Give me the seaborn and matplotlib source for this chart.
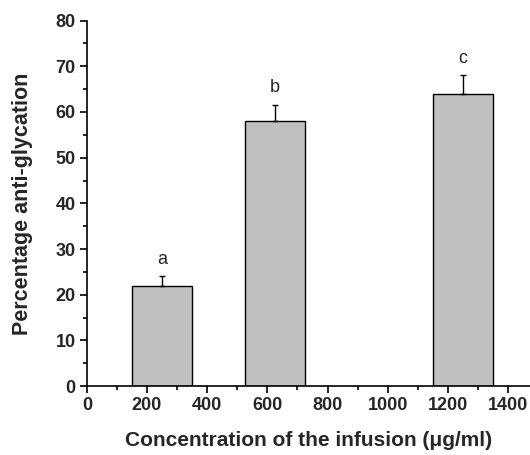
import matplotlib
matplotlib.use("Agg")
import matplotlib.pyplot as plt
import seaborn as sns
import pandas as pd
import numpy as np
from matplotlib.ticker import MultipleLocator

concentration = [250, 625, 1250]
anti_glycation = [22.0, 58.0, 64.0]
sd = [2.0, 3.5, 4.0]
letters = ["a", "b", "c"]

sns.set_theme(style="ticks")
plt.rcParams['font.family'] = ['Liberation Sans', 'DejaVu Sans']

df = pd.DataFrame({"conc": concentration, "val": anti_glycation})

fig = plt.figure(figsize=(5.3, 4.55), dpi=100)
ax = fig.add_axes([0.1638, 0.1514, 0.8362, 0.8033])

sns.barplot(data=df, x="conc", y="val", native_scale=True, width=200/375,
            color="#c0c0c0", edgecolor="black", linewidth=1.0, errorbar=None,
            saturation=1, ax=ax)
ax.errorbar(concentration, anti_glycation, yerr=[np.zeros(3), sd], fmt="none",
            ecolor="black", elinewidth=1.0, capsize=2.5, capthick=1.0)

for x, y, e, t in zip(concentration, anti_glycation, sd, letters):
    ax.text(x, y + e + 3.8, t, ha="center", va="center", fontsize=13)

ax.set_xlim(0, 1473)
ax.set_ylim(0, 80)
ax.xaxis.set_major_locator(MultipleLocator(200))
ax.xaxis.set_minor_locator(MultipleLocator(100))
ax.yaxis.set_major_locator(MultipleLocator(10))
ax.yaxis.set_minor_locator(MultipleLocator(5))
ax.tick_params(axis="both", which="major", direction="out", length=5, width=1.2,
               labelsize=13, color="black", pad=3)
ax.tick_params(axis="both", which="minor", direction="out", length=3, width=1.2, color="black")
for lab in ax.get_xticklabels() + ax.get_yticklabels():
    lab.set_fontweight("bold")
for s in ["top", "right"]:
    ax.spines[s].set_visible(False)
for s in ["left", "bottom"]:
    ax.spines[s].set_linewidth(1.2)
    ax.spines[s].set_color("black")

ax.set_xlabel("Concentration of the infusion (μg/ml)", fontsize=15, fontweight="bold", labelpad=12)
ax.set_ylabel("Percentage anti-glycation", fontsize=15.5, fontweight="bold", labelpad=16)

fig.savefig("out.png", dpi=100)
